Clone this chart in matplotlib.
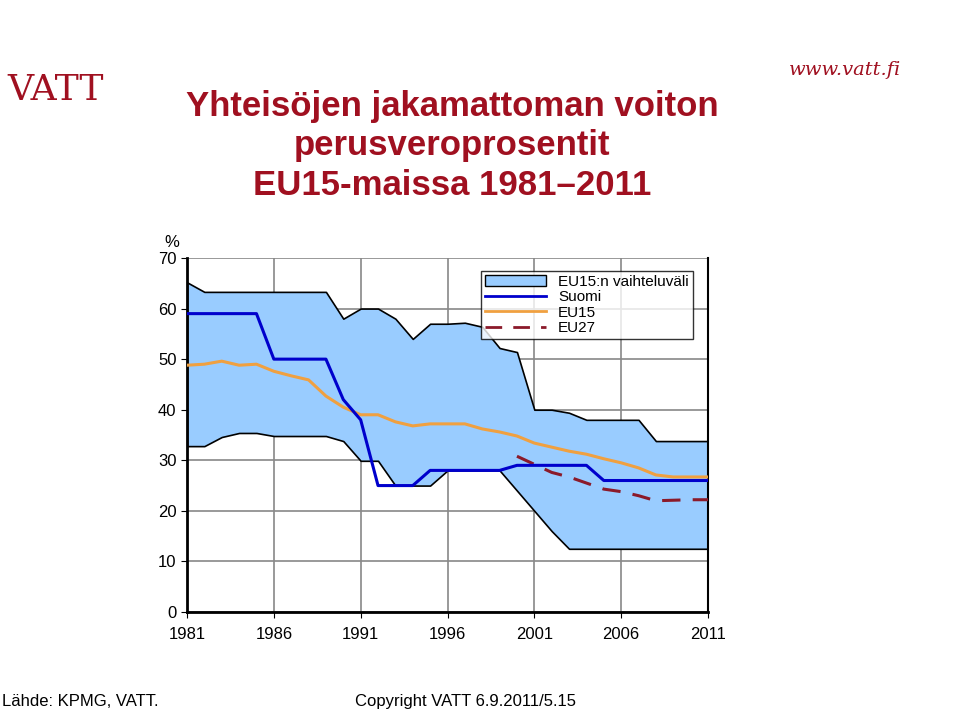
import numpy as np
import matplotlib
matplotlib.use('Agg')
import matplotlib.pyplot as plt
from matplotlib.patches import Patch
from matplotlib.lines import Line2D

plt.rcParams['font.family'] = 'Liberation Sans'

years = np.arange(1981, 2012)
upper = [65.2, 63.3, 63.3, 63.3, 63.3, 63.3, 63.3, 63.3, 63.3, 58, 60, 60, 58, 54, 57, 57,
         57.2, 56.4, 52.2, 51.4, 40, 40, 39.4, 38, 38, 38, 38, 33.8, 33.8, 33.8, 33.8]
lower = [32.8, 32.8, 34.6, 35.4, 35.4, 34.8, 34.8, 34.8, 34.8, 33.8, 29.9, 29.9, 25, 25, 25, 28,
         28, 28, 28, 24, 20, 16, 12.5, 12.5, 12.5, 12.5, 12.5, 12.5, 12.5, 12.5, 12.5]
suomi = [59, 59, 59, 59, 59, 50, 50, 50, 50, 42, 38, 25, 25, 25, 28, 28,
         28, 28, 28, 29, 29, 29, 29, 29, 26, 26, 26, 26, 26, 26, 26]
eu15 = [48.8, 49, 49.6, 48.8, 49, 47.6, 46.7, 45.9, 42.7, 40.5, 39, 39, 37.6, 36.8, 37.2, 37.2,
        37.2, 36.2, 35.6, 34.8, 33.4, 32.6, 31.8, 31.2, 30.3, 29.5, 28.5, 27.1, 26.7, 26.7, 26.7]
eu27_years = np.arange(2000, 2012)
eu27 = [30.8, 29.2, 27.6, 26.7, 25.5, 24.3, 23.8, 23.0, 22.0, 22.1, 22.2, 22.2]

fig = plt.figure(figsize=(9.6, 7.12), dpi=100)
ax = fig.add_axes([187/960, 1-612/712, (708-187)/960, (612-258)/712])

ax.fill_between(years, lower, upper, color='#99ccff', edgecolor='black', linewidth=1.2, zorder=2)
ax.plot(years, suomi, color='#0000cc', lw=2.2, zorder=4)
ax.plot(years, eu15, color='#f0a040', lw=2.2, zorder=3)
ax.plot(eu27_years, eu27, color='#8b1a2a', lw=2.2, dashes=(6, 4), zorder=3)

ax.set_xlim(1981, 2011)
ax.set_ylim(0, 70)
ax.set_xticks(range(1981, 2012, 5))
ax.set_yticks(range(0, 71, 10))
ax.grid(True, color='#888888', lw=1.2, zorder=0)
ax.spines['top'].set_visible(False)
ax.spines['left'].set_linewidth(2)
ax.spines['bottom'].set_linewidth(2)
ax.spines['right'].set_linewidth(1.5)
ax.tick_params(labelsize=12, length=4, direction='out')
ax.tick_params(axis='x', pad=7)
ax.text(-0.03, 1.03, '%', transform=ax.transAxes, fontsize=12, ha='center')

handles = [Patch(facecolor='#99ccff', edgecolor='black'),
           Line2D([], [], color='#0000cc', lw=2),
           Line2D([], [], color='#f0a040', lw=2),
           Line2D([], [], color='#8b1a2a', lw=2, dashes=(6, 4))]
leg = ax.legend(handles, ['EU15:n vaihteluväli', 'Suomi', 'EU15', 'EU27'],
                loc='upper right', bbox_to_anchor=(0.985, 0.985), fontsize=11,
                frameon=True, fancybox=False, edgecolor='black', borderpad=0.25,
                labelspacing=0.1, handlelength=4)
leg.set_zorder(5)

fig.text(0.471, 0.795, 'Yhteisöjen jakamattoman voiton\nperusveroprosentit\nEU15-maissa 1981\u20132011',
         ha='center', va='center', fontsize=25, fontweight='bold', color='#a01020',
         linespacing=1.25)
fig.text(0.058, 0.86, 'VATT', fontsize=26, color='#a01020', family='DejaVu Serif', ha='center')
fig.text(0.88, 0.895, 'www.vatt.fi', fontsize=14, color='#a01020', style='italic',
         family='DejaVu Serif', ha='center')
fig.text(0.002, 0.008, 'Lähde: KPMG, VATT.', fontsize=12)
fig.text(0.37, 0.008, 'Copyright VATT 6.9.2011/5.15', fontsize=12)

fig.savefig('out.png', dpi=100)
